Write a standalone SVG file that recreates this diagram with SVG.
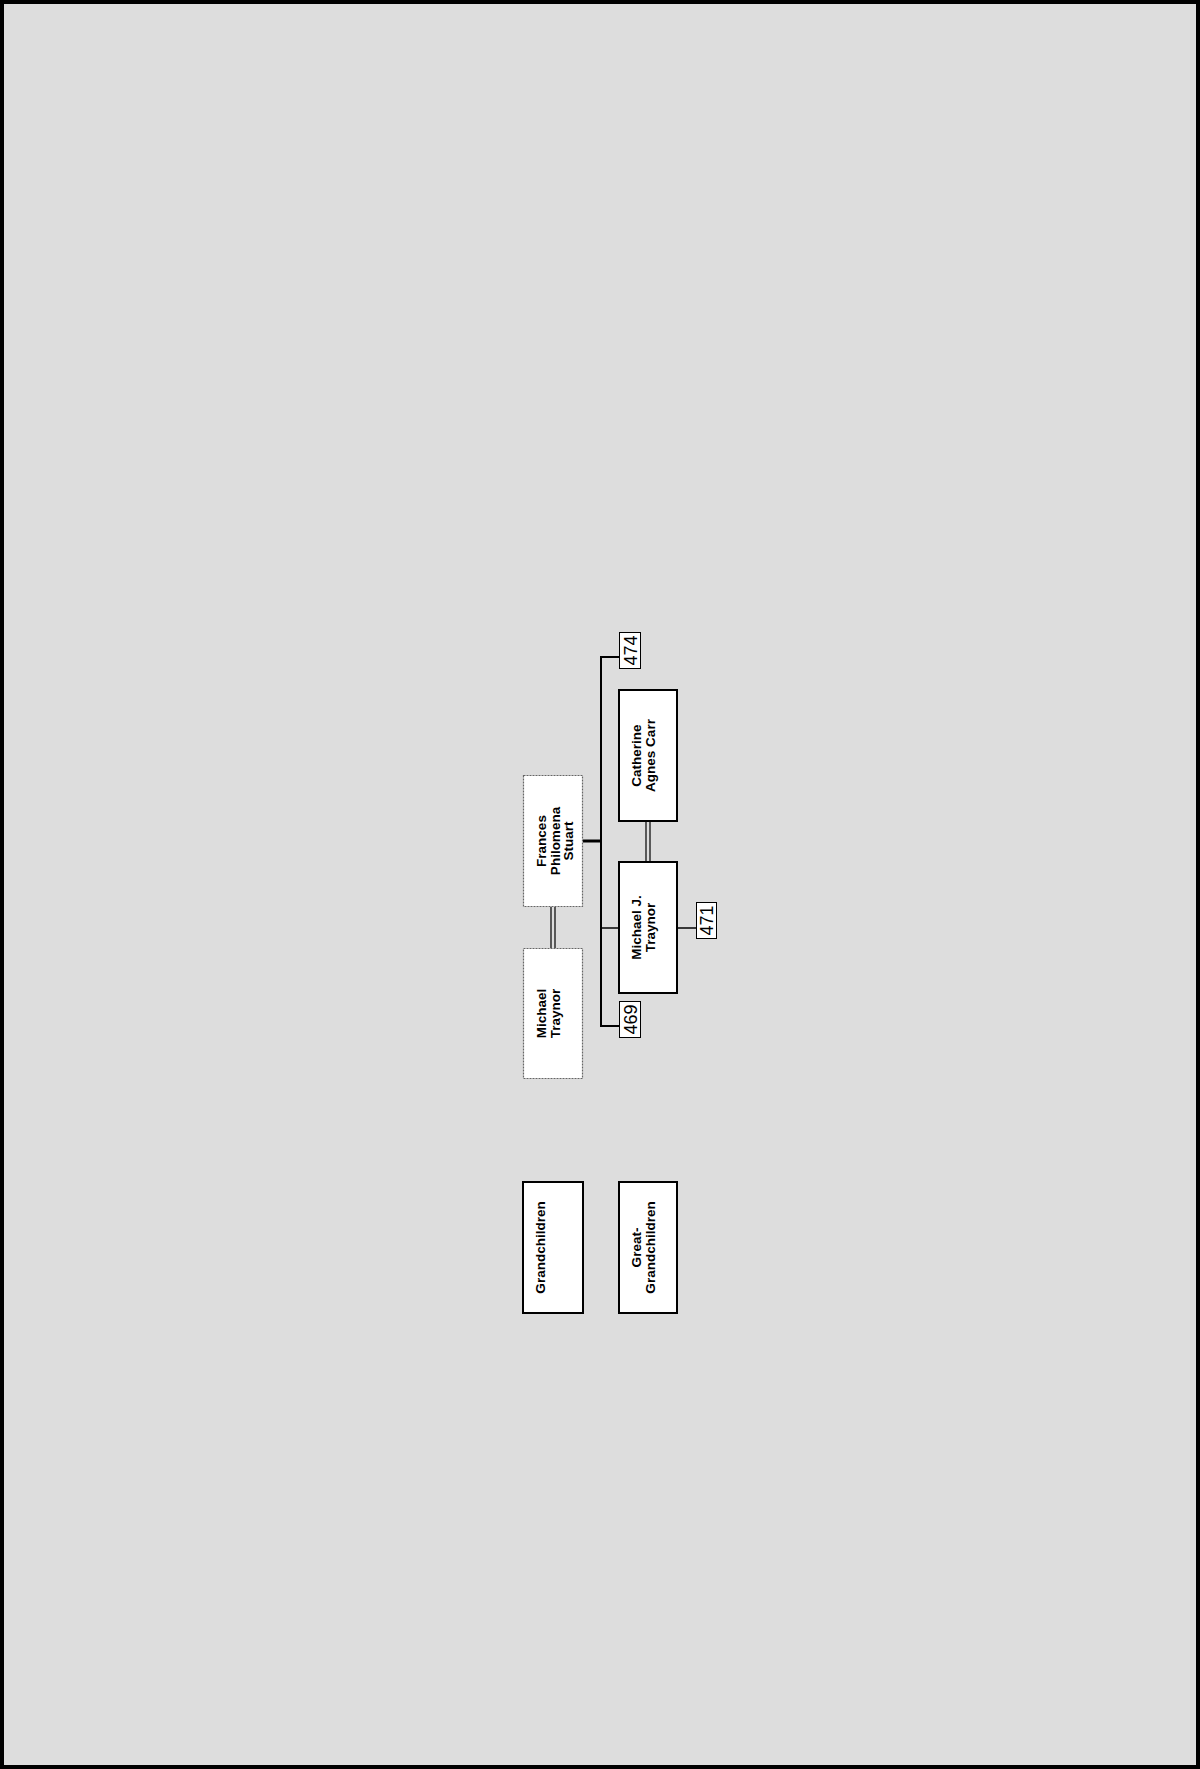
<svg xmlns="http://www.w3.org/2000/svg" width="1200" height="1769" viewBox="0 0 1200 1769">
<style>
.box{fill:#ffffff;stroke:#000000;stroke-width:2}
.ghost{fill:#ffffff;stroke:#666666;stroke-width:1.2;stroke-dasharray:2,1}
.num{fill:#ffffff;stroke:#000000;stroke-width:1}
.lbl{font-family:"Liberation Sans",Arial,sans-serif;font-weight:bold;font-size:13.5px;fill:#000;text-anchor:middle}
.n{font-family:"Liberation Sans",Arial,sans-serif;font-size:18px;fill:#000;text-anchor:middle}
.c{stroke:#000;fill:none}
</style>
<rect x="2" y="2" width="1196" height="1765" fill="#dddddd" stroke="#000000" stroke-width="4"/>
<g id="connectors">
<line class="c" x1="583" y1="841" x2="601" y2="841" stroke-width="3"/>
<line class="c" x1="601" y1="656" x2="601" y2="1027" stroke-width="2"/>
<line class="c" x1="601" y1="657" x2="619" y2="657" stroke-width="2"/>
<line class="c" x1="601" y1="1026" x2="619" y2="1026" stroke-width="2"/>
<line class="c" x1="601" y1="928" x2="619" y2="928" stroke-width="1.5"/>
<line class="c" x1="677" y1="928" x2="696" y2="928" stroke-width="1.5"/>
<line class="c" x1="551" y1="907" x2="551" y2="948" stroke-width="1.2"/>
<line class="c" x1="555" y1="907" x2="555" y2="948" stroke-width="1.2"/>
<line class="c" x1="646" y1="821" x2="646" y2="862" stroke-width="1.2"/>
<line class="c" x1="650" y1="821" x2="650" y2="862" stroke-width="1.2"/>
</g>
<g id="frances">
<rect class="ghost" x="523.5" y="775.5" width="59" height="131"/>
<text class="lbl" transform="translate(546,841) rotate(-90)"><tspan x="0" y="0">Frances</tspan><tspan x="0" y="13.5">Philomena</tspan><tspan x="0" y="27">Stuart</tspan></text>
</g>
<g id="michael-traynor">
<rect class="ghost" x="523.5" y="948.5" width="59" height="130"/>
<text class="lbl" transform="translate(546,1013.5) rotate(-90)"><tspan x="0" y="0">Michael</tspan><tspan x="0" y="13.5">Traynor</tspan></text>
</g>
<g id="catherine">
<rect class="box" x="619" y="690" width="58" height="131"/>
<text class="lbl" transform="translate(641,755.5) rotate(-90)"><tspan x="0" y="0">Catherine</tspan><tspan x="0" y="13.5">Agnes Carr</tspan></text>
</g>
<g id="michael-j">
<rect class="box" x="619" y="862" width="58" height="131"/>
<text class="lbl" transform="translate(641,927.5) rotate(-90)"><tspan x="0" y="0">Michael J.</tspan><tspan x="0" y="13.5">Traynor</tspan></text>
</g>
<g id="grandchildren">
<rect class="box" x="523" y="1182" width="60" height="131"/>
<text class="lbl" transform="translate(545,1247.5) rotate(-90)">Grandchildren</text>
</g>
<g id="great-grandchildren">
<rect class="box" x="619" y="1182" width="58" height="131"/>
<text class="lbl" transform="translate(641,1247.5) rotate(-90)"><tspan x="0" y="0">Great-</tspan><tspan x="0" y="13.5">Grandchildren</tspan></text>
</g>
<g id="n474">
<rect class="num" x="619.5" y="632.5" width="21" height="36"/>
<text class="n" transform="translate(637,650.5) rotate(-90)">474</text>
</g>
<g id="n469">
<rect class="num" x="619.5" y="1001.5" width="21" height="36"/>
<text class="n" transform="translate(637,1019.5) rotate(-90)">469</text>
</g>
<g id="n471">
<rect class="num" x="696.5" y="902.5" width="20" height="36"/>
<text class="n" transform="translate(713,920.5) rotate(-90)">471</text>
</g>
</svg>
